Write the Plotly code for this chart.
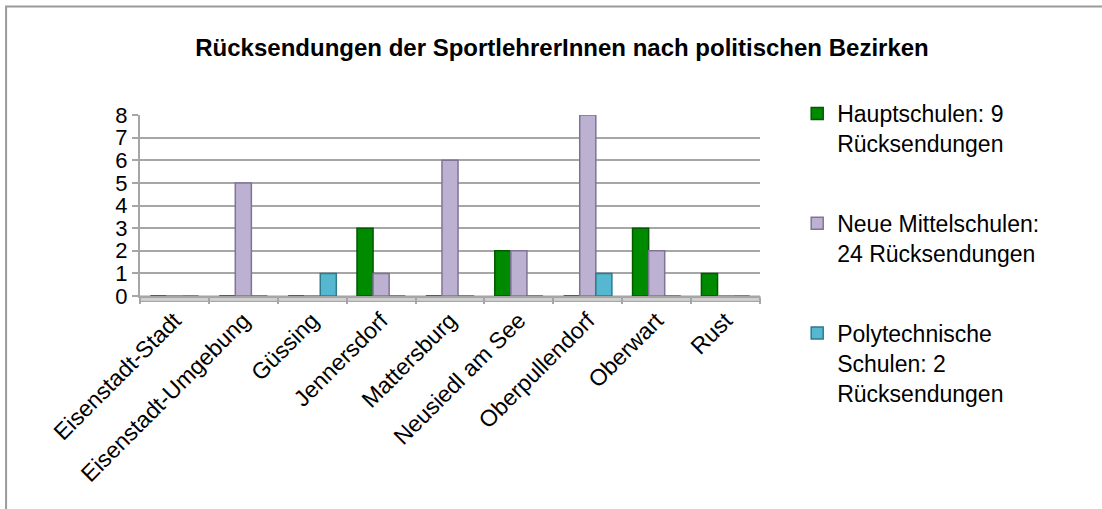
import plotly.graph_objects as go

bezirke = ["Eisenstadt-Stadt", "Eisenstadt-Umgebung", "Güssing", "Jennersdorf",
           "Mattersburg", "Neusiedl am See", "Oberpullendorf", "Oberwart", "Rust"]
hauptschulen = [0, 0, 0, 3, 0, 2, 0, 3, 1]
neue_mittelschulen = [0, 5, 0, 1, 6, 2, 8, 2, 0]
polytechnische = [0, 0, 1, 0, 0, 0, 1, 0, 0]

series_names = ["Hauptschulen: 9<br>Rücksendungen",
                "Neue Mittelschulen:<br>24 Rücksendungen",
                "Polytechnische<br>Schulen: 2<br>Rücksendungen"]
colors = ["#008a00", "#bdb1d2", "#55b8d0"]
edge_colors = ["#005a00", "#7f7497", "#2e7b8c"]

fig = go.Figure()
for i, (name, vals) in enumerate(zip(series_names, [hauptschulen, neue_mittelschulen, polytechnische])):
    fig.add_trace(go.Bar(
        x=bezirke, y=vals, name=name, legendgroup=f"g{i}",
        marker=dict(color=colors[i], line=dict(color=edge_colors[i], width=1.5)),
    ))

L, R, T, B = 140, 342, 115, 213
fig.update_layout(
    width=1102, height=509,
    paper_bgcolor="white", plot_bgcolor="white",
    margin=dict(l=L, r=R, t=T, b=B),
    barmode="group", bargap=0.3, bargroupgap=0.0,
    font=dict(family="Liberation Sans, Arial, sans-serif", color="black"),
    title=dict(text="<b>Rücksendungen der SportlehrerInnen nach politischen Bezirken</b>",
               x=0.51, xanchor="center", y=0.907, yanchor="middle",
               font=dict(size=24, color="black")),
    legend=dict(x=1.06, xanchor="left", y=1.127, yanchor="top",
                font=dict(size=23), traceorder="grouped", tracegroupgap=47,
                itemwidth=30, valign="top", maxheight=480,
                bgcolor="rgba(0,0,0,0)"),
    xaxis=dict(tickangle=-45, tickfont=dict(size=23), showgrid=False,
               showline=True, linecolor="#a6a6a6", linewidth=2,
               ticks="outside", tickson="boundaries", tickcolor="#a6a6a6",
               ticklen=6, tickwidth=2, zeroline=False),
    yaxis=dict(range=[0, 8], dtick=1, tickfont=dict(size=22),
               showgrid=True, gridcolor="#a6a6a6", gridwidth=2,
               showline=True, linecolor="#a6a6a6", linewidth=2,
               ticks="outside", tickcolor="#a6a6a6", ticklen=6, tickwidth=2,
               zeroline=False),
    shapes=[
        dict(type="rect", xref="paper", yref="paper", x0=0, x1=1.0, y0=-0.03, y1=0,
             line=dict(color="#a0a0a0", width=1), fillcolor="#d0d0d0", layer="below"),
        dict(type="rect", xref="paper", yref="paper", x0=-0.216, x1=1.75, y0=-1.3, y1=1.6,
             line=dict(color="#9a9a9a", width=2), fillcolor="rgba(0,0,0,0)", layer="below"),
    ],
)

fig.write_html("out.html")
